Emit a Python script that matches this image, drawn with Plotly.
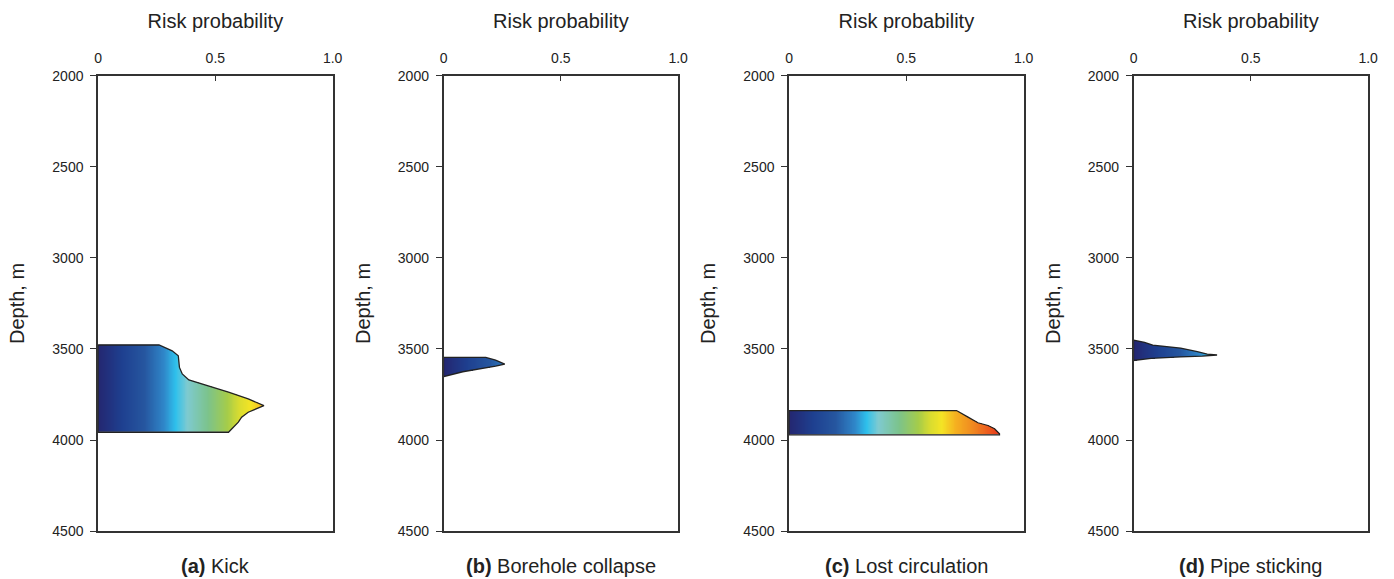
import numpy as np
import plotly.graph_objects as go

# ---- data: outline of each risk-probability profile (probability, depth) ----
kick_p = [0.0, 0.26, 0.316, 0.342, 0.347, 0.359, 0.387, 0.443, 0.556, 0.640, 0.707, 0.640, 0.612, 0.598, 0.556, 0.0]
kick_d = [3478, 3478, 3510, 3537, 3601, 3637, 3670, 3692, 3737, 3774, 3811, 3847, 3874, 3902, 3957, 3957]

collapse_p = [0.0, 0.18, 0.222, 0.261, 0.222, 0.152, 0.082, 0.0]
collapse_d = [3546, 3546, 3561, 3583, 3594, 3610, 3625, 3652]

lost_p = [0.0, 0.714, 0.763, 0.805, 0.848, 0.876, 0.897, 0.897, 0.0]
lost_d = [3838, 3838, 3874, 3905, 3920, 3938, 3965, 3971, 3971]

stick_p = [0.0, 0.047, 0.082, 0.159, 0.201, 0.272, 0.314, 0.356, 0.293, 0.201, 0.075, 0.0]
stick_d = [3451, 3464, 3479, 3488, 3495, 3515, 3528, 3533, 3539, 3543, 3552, 3563]

panels = [
    ("(a)", "Kick", kick_p, kick_d),
    ("(b)", "Borehole collapse", collapse_p, collapse_d),
    ("(c)", "Lost circulation", lost_p, lost_d),
    ("(d)", "Pipe sticking", stick_p, stick_d),
]

x_ticks = [0, 0.5, 1.0]
x_ticktext = ["0", "0.5", "1.0"]
y_ticks = [2000, 2500, 3000, 3500, 4000, 4500]

colorscale = [
    [0.00, "#242670"],
    [0.10, "#1e3f8f"],
    [0.20, "#2657a0"],
    [0.28, "#2f86c8"],
    [0.33, "#2ec0ec"],
    [0.38, "#7ecad0"],
    [0.47, "#7cc38a"],
    [0.55, "#a5cc4a"],
    [0.60, "#d8dc30"],
    [0.65, "#f4e425"],
    [0.71, "#f5b020"],
    [0.78, "#f08a20"],
    [0.85, "#ec5a1e"],
    [0.92, "#e3231b"],
    [1.00, "#d81c1a"],
]


def point_in_poly(px, py, xs, ys):
    n = len(xs)
    inside = np.zeros(px.shape, dtype=bool)
    j = n - 1
    for i in range(n):
        xi, yi, xj, yj = xs[i], ys[i], xs[j], ys[j]
        cond = ((yi > py) != (yj > py))
        with np.errstate(divide="ignore", invalid="ignore"):
            xint = (xj - xi) * (py - yi) / (yj - yi + 1e-12) + xi
        inside ^= cond & (px < xint)
        j = i
    return inside


W = 1394
H = 579
FONT = "Liberation Sans, Arial"
x_doms = [(95, 332), (444, 681), (793, 1030), (1141, 1378)]
# empirical mapping of paper coords to pixels (paper spans ~6..571 px)
P_TOP, P_H = 6.0, 565.0


def py(pix):
    return 1 - (pix - P_TOP) / P_H


y_dom = [py(531), py(74)]

fig = go.Figure()
for k, (tag, name, ps, ds) in enumerate(panels):
    xa = "x" if k == 0 else f"x{k+1}"
    ya = "y" if k == 0 else f"y{k+1}"
    xs = np.arange(0.001, 1.0, 0.002)
    ys = np.arange(min(ds), max(ds) + 1, 2.0)
    X, Y = np.meshgrid(xs, ys)
    cx = list(ps)
    cy = list(ds)
    mask = point_in_poly(X, Y, cx, cy)
    Z = np.where(mask, X, np.nan)
    fig.add_trace(go.Heatmap(
        x=xs, y=ys, z=Z, colorscale=colorscale, zmin=0, zmax=1,
        showscale=False, hoverinfo="skip", xaxis=xa, yaxis=ya,
    ))
    fig.add_trace(go.Scatter(
        x=cx + [cx[0]], y=cy + [cy[0]], mode="lines",
        line=dict(color="#222222", width=1.3), showlegend=False,
        hoverinfo="skip", xaxis=xa, yaxis=ya,
    ))
    x0, x1 = x_doms[k]
    axx = dict(
        domain=[x0 / W, x1 / W], range=[0, 1], side="top",
        tickvals=x_ticks, ticktext=x_ticktext, ticks="inside", ticklen=5,
        tickcolor="#333", showline=True, linecolor="#333", linewidth=1.5,
        mirror=True, showgrid=False, zeroline=False, ticklabelstandoff=5,
        tickfont=dict(family=FONT, size=14, color="#222"),
        title=dict(text="Risk probability", standoff=16,
                   font=dict(family=FONT, size=20, color="#222")),
        anchor=ya, fixedrange=True,
    )
    axy = dict(
        domain=y_dom, range=[4500, 2000], tickvals=y_ticks,
        ticks="outside", ticklen=6, tickcolor="#333",
        showline=True, linecolor="#333", linewidth=1.5, mirror=True,
        showgrid=False, zeroline=False, ticklabelstandoff=4,
        tickfont=dict(family=FONT, size=14, color="#222"),
        title=dict(text="Depth, m", standoff=22,
                   font=dict(family=FONT, size=20, color="#222")),
        anchor=xa, fixedrange=True,
    )
    fig.layout["xaxis" if k == 0 else f"xaxis{k+1}"] = axx
    fig.layout["yaxis" if k == 0 else f"yaxis{k+1}"] = axy
    fig.add_annotation(
        x=(x0 + x1) / 2 / W, y=py(566), xref="paper", yref="paper",
        text=f"<b>{tag}</b> {name}", showarrow=False,
        font=dict(family=FONT, size=20, color="#222"),
        xanchor="center", yanchor="middle",
    )

fig.update_layout(
    width=W, height=H, margin=dict(l=0, r=0, t=0, b=0),
    paper_bgcolor="white", plot_bgcolor="white", showlegend=False,
)
fig.write_html("out.html")
